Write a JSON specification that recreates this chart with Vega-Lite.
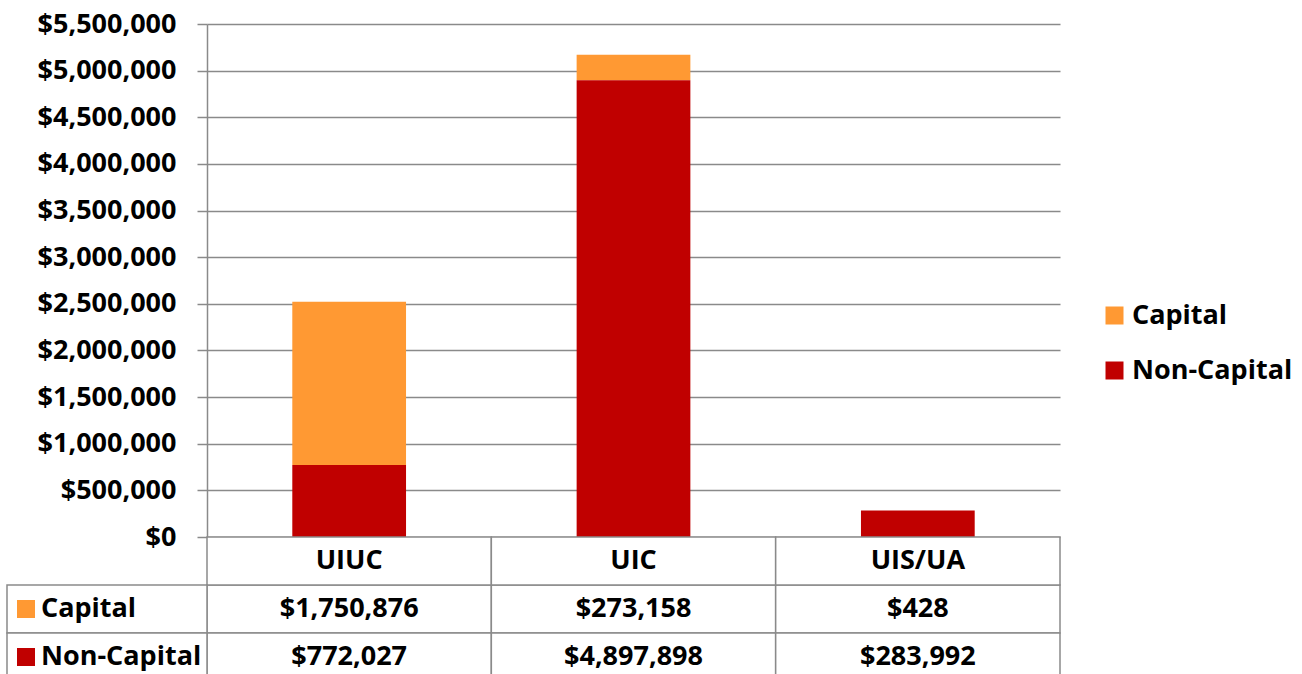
{
  "$schema": "https://vega.github.io/schema/vega-lite/v6.json",
  "autosize": {"type": "none"},
  "padding": {"left": 7, "top": 24, "right": 242, "bottom": 0},
  "width": 1053,
  "height": 650,
  "background": "white",
  "config": {
    "view": {"stroke": null},
    "font": "Open Sans",
    "text": {"font": "Open Sans", "fontSize": 27, "fontWeight": "bold", "color": "black"}
  },
  "data": {
    "values": [
      {"campus": "UIUC", "series": "Capital", "value": 1750876},
      {"campus": "UIUC", "series": "Non-Capital", "value": 772027},
      {"campus": "UIC", "series": "Capital", "value": 273158},
      {"campus": "UIC", "series": "Non-Capital", "value": 4897898},
      {"campus": "UIS/UA", "series": "Capital", "value": 428},
      {"campus": "UIS/UA", "series": "Non-Capital", "value": 283992}
    ]
  },
  "encoding": {
    "x": {
      "field": "campus",
      "type": "nominal",
      "sort": ["UIUC", "UIC", "UIS/UA"],
      "scale": {"domain": ["UIUC", "UIC", "UIS/UA"], "range": [200, 1053], "paddingInner": 0, "paddingOuter": 0},
      "axis": null
    }
  },
  "layer": [
    {
      "mark": {"type": "bar", "width": {"band": 0.4}},
      "encoding": {
        "y": {
          "field": "value",
          "type": "quantitative",
          "stack": "zero",
          "scale": {"domain": [0, 5500000], "range": [513, 0], "nice": false, "zero": true},
          "axis": {
            "orient": "left",
            "offset": -200,
            "title": null,
            "values": [0, 500000, 1000000, 1500000, 2000000, 2500000, 3000000, 3500000, 4000000, 4500000, 5000000, 5500000],
            "format": "$,.0f",
            "labelFont": "Open Sans",
            "labelFontSize": 27,
            "labelFontWeight": "bold",
            "labelColor": "black",
            "labelPadding": 21,
            "labelLimit": 400,
            "tickSize": 10,
            "tickColor": "#8a8a8a",
            "tickWidth": 1.5,
            "domain": true,
            "domainColor": "#8a8a8a",
            "domainWidth": 1.5,
            "grid": true,
            "gridColor": "#8a8a8a",
            "gridWidth": 1.5,
            "labelOverlap": false
          }
        },
        "color": {
          "field": "series",
          "type": "nominal",
          "scale": {"domain": ["Capital", "Non-Capital"], "range": ["#FF9933", "#C00000"]},
          "legend": {
            "orient": "none",
            "legendX": 1094,
            "legendY": 278,
            "title": null,
            "symbolType": "square",
            "symbolSize": 324,
            "symbolStrokeWidth": 0,
            "labelFont": "Open Sans",
            "labelFontSize": 27,
            "labelFontWeight": "bold",
            "labelColor": "black",
            "labelOffset": 4,
            "labelLimit": 400,
            "rowPadding": 27,
            "padding": 0
          }
        },
        "order": {"field": "series", "sort": "descending"}
      }
    },
    {
      "encoding": {
        "y": {
          "field": "series",
          "type": "nominal",
          "scale": {"domain": ["header", "Capital", "Non-Capital"], "range": [513, 657], "paddingInner": 0, "paddingOuter": 0},
          "axis": null
        }
      },
      "layer": [
        {
          "mark": {"type": "rect", "fill": "white", "stroke": "#8a8a8a", "strokeWidth": 1.5}
        },
        {
          "transform": [{"filter": "datum.series == 'Capital'"}],
          "mark": {"type": "rect", "fill": "white", "stroke": "#8a8a8a", "strokeWidth": 1.5},
          "encoding": {"y": {"datum": "header", "type": "nominal"}}
        },
        {
          "transform": [{"filter": "datum.campus == 'UIUC'"}],
          "mark": {"type": "rect", "fill": "white", "stroke": "#8a8a8a", "strokeWidth": 1.5},
          "encoding": {
            "x": {"datum": "UIUC", "type": "nominal", "bandPosition": -0.7034},
            "x2": {"datum": "UIUC", "bandPosition": 0}
          }
        },
        {
          "transform": [{"filter": "datum.campus == 'UIUC'"}],
          "mark": {"type": "point", "shape": "square", "filled": true, "size": 324, "opacity": 1, "strokeWidth": 0},
          "encoding": {
            "x": {"datum": "UIUC", "type": "nominal", "bandPosition": -0.6366},
            "color": {
              "field": "series",
              "type": "nominal",
              "legend": {
                "orient": "none",
                "legendX": 1094,
                "legendY": 278,
                "title": null,
                "symbolType": "square",
                "symbolSize": 324,
                "symbolStrokeWidth": 0,
                "labelFont": "Open Sans",
                "labelFontSize": 27,
                "labelFontWeight": "bold",
                "labelColor": "black",
                "labelOffset": 4,
                "labelLimit": 400,
                "rowPadding": 27,
                "padding": 0
              }
            }
          }
        },
        {
          "transform": [{"filter": "datum.campus == 'UIUC'"}],
          "mark": {"type": "text", "align": "left", "baseline": "middle"},
          "encoding": {
            "x": {"datum": "UIUC", "type": "nominal", "bandPosition": -0.5838},
            "text": {"field": "series", "type": "nominal"}
          }
        },
        {
          "mark": {"type": "text", "align": "center", "baseline": "middle"},
          "encoding": {
            "text": {"field": "value", "type": "quantitative", "format": "$,.0f"}
          }
        },
        {
          "transform": [{"filter": "datum.series == 'Capital'"}],
          "mark": {"type": "text", "align": "center", "baseline": "middle"},
          "encoding": {
            "y": {"datum": "header", "type": "nominal"},
            "text": {"field": "campus", "type": "nominal"}
          }
        }
      ]
    }
  ],
  "resolve": {"scale": {"y": "independent"}, "axis": {"y": "independent"}}
}
